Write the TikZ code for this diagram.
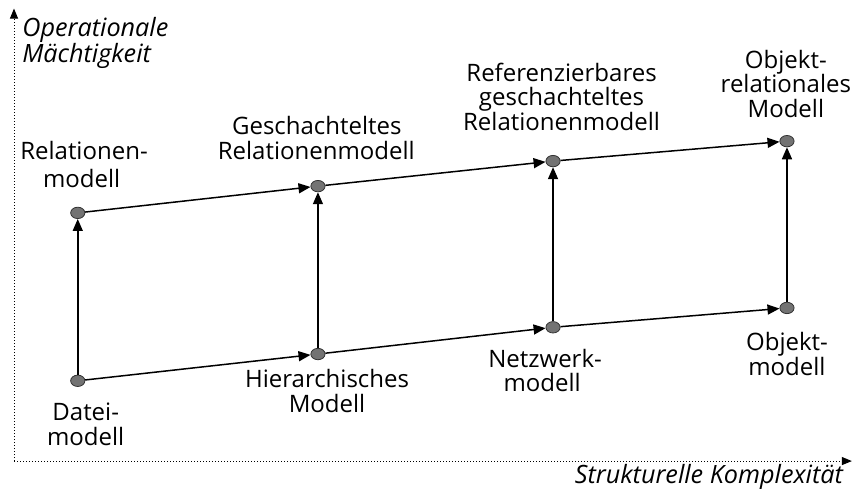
\documentclass[tikz,border=0pt]{standalone}
\usepackage{fontspec}
\setmainfont{Open Sans}
\usetikzlibrary{arrows.meta,shapes.geometric}

\begin{document}
\begin{tikzpicture}[font=\fontsize{12}{14}\selectfont,
  every node/.append style={anchor=base,inner sep=0pt},
  achsentext/.style={font=\fontsize{12.6}{14}\selectfont\itshape},
  modell/.style={ellipse,draw=black!80,fill=black!55,line width=0.4pt,
    minimum width=0.25cm,minimum height=0.2cm,inner sep=0pt,anchor=center},
  pfeil/.style={-{Triangle[length=6pt,width=5pt]},line width=0.75pt},
  achse/.style={densely dotted,line width=0.5pt,-{Triangle[length=5pt,width=4pt]}}]
\useasboundingbox (-0.246,-0.49) rectangle (14.74,8.10);

% axes
\coordinate (ursprung) at (0,0);
\coordinate (yende) at (0,7.95);
\coordinate (xende) at (14.72,0);
\draw [achse] (ursprung) -- (yende);
\draw [achse] (ursprung) -- (xende);
\node (yl1) [achsentext,anchor=base west] at (0.14,7.45) {Operationale};
\node (yl2) [achsentext,anchor=base west] at (0.14,7.01) {Mächtigkeit};
\node (xl) [achsentext,anchor=base east] at (14.57,-0.39) {Strukturelle Komplexität};

% models
\node (datei) [modell] at (1.12,1.41) {};
\node (rel) [modell] at (1.12,4.36) {};
\node (hier) [modell] at (5.34,1.88) {};
\node (gesch) [modell] at (5.34,4.83) {};
\node (netz) [modell] at (9.47,2.35) {};
\node (ref) [modell] at (9.47,5.27) {};
\node (obj) [modell] at (13.58,2.69) {};
\node (objrel) [modell] at (13.58,5.62) {};

\draw [pfeil] (datei) -- (hier);
\draw [pfeil] (hier) -- (netz);
\draw [pfeil] (netz) -- (obj);
\draw [pfeil] (rel) -- (gesch);
\draw [pfeil] (gesch) -- (ref);
\draw [pfeil] (ref) -- (objrel);
\draw [pfeil] (datei) -- (rel);
\draw [pfeil] (hier) -- (gesch);
\draw [pfeil] (netz) -- (ref);
\draw [pfeil] (obj) -- (objrel);

% labels
\node (rel1) at (1.23,5.29) {Relationen-};
\node (rel2) at (1.19,4.81) {modell};

\node (ges1) at (5.32,5.73) {Geschachteltes};
\node (ges2) at (5.31,5.29) {Relationenmodell};

\node (ref1) at (9.62,6.66) {Referenzierbares};
\node (ref2) at (9.62,6.24) {geschachteltes};
\node (ref3) at (9.62,5.80) {Relationenmodell};

\node (orel1) at (13.56,6.90) {Objekt-};
\node (orel2) at (13.56,6.47) {relationales};
\node (orel3) at (13.56,6.03) {Modell};

\node (obj1) at (13.58,1.95) {Objekt-};
\node (obj2) at (13.58,1.51) {modell};

\node (netz1) at (9.33,1.65) {Netzwerk-};
\node (netz2) at (9.28,1.23) {modell};

\node (hier1) at (5.50,1.30) {Hierarchisches};
\node (hier2) at (5.50,0.86) {Modell};

\node (dat1) at (1.26,0.72) {Datei-};
\node (dat2) at (1.26,0.28) {modell};

\end{tikzpicture}
\end{document}
